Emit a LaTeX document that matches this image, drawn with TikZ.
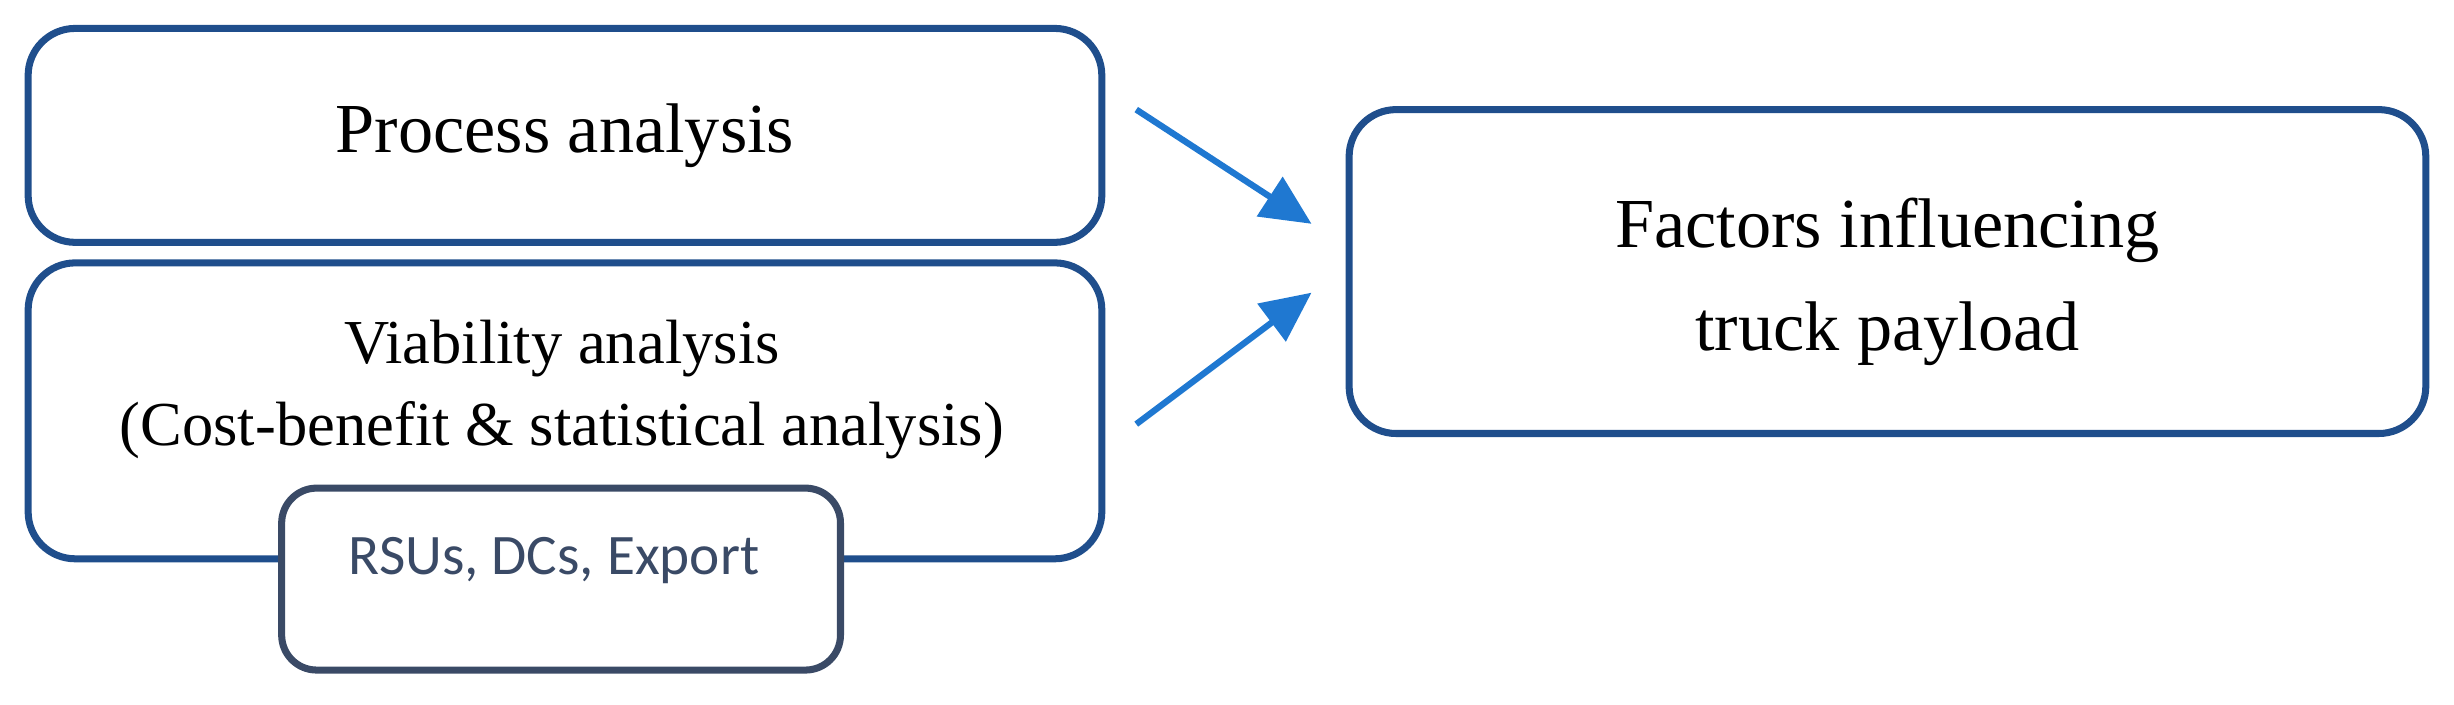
\documentclass[tikz,border=0pt]{standalone}
\usepackage{fontspec}
\setmainfont{Liberation Serif}
\newfontfamily\carl{Carlito}
\usetikzlibrary{arrows.meta}
\definecolor{boxblue}{HTML}{1F4E8C}
\definecolor{arrblue}{HTML}{1F78D1}
\definecolor{slate}{HTML}{3A4A66}
\begin{document}
\begin{tikzpicture}[x=0.01565cm,y=-0.01565cm,
  box/.style={draw=boxblue,line width=2pt,rounded corners=0.47cm,fill=white,inner sep=0pt},
  txt/.style={font=\fontsize{20}{28}\selectfont,align=center,text=black},
  arr/.style={draw=arrblue,line width=1.8pt,-{Triangle[length=0.5cm,width=0.46cm]}}]
\useasboundingbox (0,0) rectangle (1568,450);
\node[box,minimum width=10.74cm,minimum height=2.14cm] (b1) at (361,86.5) {};
\node[txt] (t1) at (b1) {Process analysis};
\node[box,minimum width=10.74cm,minimum height=2.96cm] (b2) at (361,262.5) {};
\node[txt,font=\fontsize{17.8}{23.5}\selectfont] (t2) at (359,249) {Viability analysis\\(Cost-benefit \& statistical analysis)};
\node[box,draw=slate,minimum width=5.59cm,minimum height=1.82cm,rounded corners=0.35cm] (b3) at (358.5,370) {};
\node[font=\carl\fontsize{16.3}{18}\selectfont,text=slate] (t3) at (354,358) {RSUs, DCs, Export};
\node[box,minimum width=10.77cm,minimum height=3.24cm] (b4) at (1206,173.5) {};
\node[txt,font=\fontsize{20}{29.5}\selectfont] (t4) at (1206,180) {Factors influencing\\truck payload};
\coordinate (a1s) at (726,70); \coordinate (a1e) at (838,143);
\coordinate (a2s) at (726,271); \coordinate (a2e) at (838,187);
\draw[arr] (a1s) -- (a1e);
\draw[arr] (a2s) -- (a2e);
\end{tikzpicture}
\end{document}
